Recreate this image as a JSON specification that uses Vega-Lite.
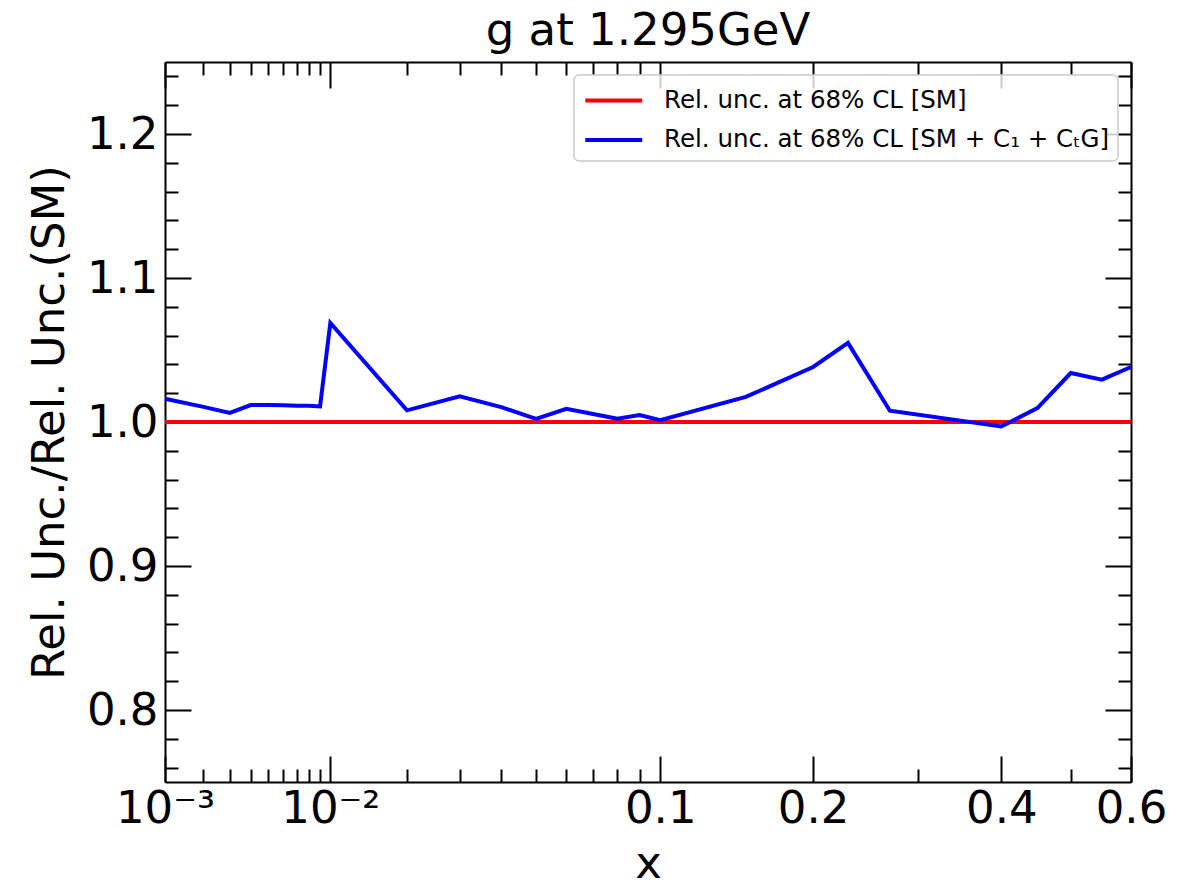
{
  "$schema": "https://vega.github.io/schema/vega-lite/v6.json",
  "autosize": "none",
  "width": 966,
  "height": 720,
  "padding": {"left": 165, "top": 62, "right": 64, "bottom": 103},
  "background": "white",
  "title": {"text": "g at 1.295GeV", "font": "DejaVu Sans", "fontSize": 45, "fontWeight": "normal", "color": "black", "anchor": "middle", "baseline": "alphabetic", "frame": "group", "offset": 17, "dy": 46},
  "config": {
    "view": {"stroke": null},
    "font": "DejaVu Sans",
    "legend": {"strokeWidth": 1.5},
    "axis": {"grid": false, "labelFont": "DejaVu Sans", "titleFont": "DejaVu Sans", "labelColor": "black", "titleColor": "black", "tickColor": "black", "domainColor": "black", "labelFontSize": 45, "titleFontSize": 45, "titleFontWeight": "normal", "tickWidth": 2, "domainWidth": 2, "labelFlush": false, "labelOverlap": false, "labelBound": false}
  },
  "data": {"values": [
    {"x": 0.001, "v": 1.0, "s": "Rel. unc. at 68% CL [SM]"},
    {"x": 0.6, "v": 1.0, "s": "Rel. unc. at 68% CL [SM]"},
    {"x": 0.001, "v": 1.0162, "s": "Rel. unc. at 68% CL [SM + C₁ + CₜG]"},
    {"x": 0.002, "v": 1.0105, "s": "Rel. unc. at 68% CL [SM + C₁ + CₜG]"},
    {"x": 0.003, "v": 1.0063, "s": "Rel. unc. at 68% CL [SM + C₁ + CₜG]"},
    {"x": 0.004, "v": 1.0118, "s": "Rel. unc. at 68% CL [SM + C₁ + CₜG]"},
    {"x": 0.005, "v": 1.0118, "s": "Rel. unc. at 68% CL [SM + C₁ + CₜG]"},
    {"x": 0.006, "v": 1.0117, "s": "Rel. unc. at 68% CL [SM + C₁ + CₜG]"},
    {"x": 0.007, "v": 1.0113, "s": "Rel. unc. at 68% CL [SM + C₁ + CₜG]"},
    {"x": 0.008, "v": 1.0112, "s": "Rel. unc. at 68% CL [SM + C₁ + CₜG]"},
    {"x": 0.009, "v": 1.0108, "s": "Rel. unc. at 68% CL [SM + C₁ + CₜG]"},
    {"x": 0.01, "v": 1.0688, "s": "Rel. unc. at 68% CL [SM + C₁ + CₜG]"},
    {"x": 0.02, "v": 1.0081, "s": "Rel. unc. at 68% CL [SM + C₁ + CₜG]"},
    {"x": 0.03, "v": 1.0178, "s": "Rel. unc. at 68% CL [SM + C₁ + CₜG]"},
    {"x": 0.04, "v": 1.0103, "s": "Rel. unc. at 68% CL [SM + C₁ + CₜG]"},
    {"x": 0.05, "v": 1.0021, "s": "Rel. unc. at 68% CL [SM + C₁ + CₜG]"},
    {"x": 0.06, "v": 1.0092, "s": "Rel. unc. at 68% CL [SM + C₁ + CₜG]"},
    {"x": 0.07, "v": 1.0056, "s": "Rel. unc. at 68% CL [SM + C₁ + CₜG]"},
    {"x": 0.08, "v": 1.0023, "s": "Rel. unc. at 68% CL [SM + C₁ + CₜG]"},
    {"x": 0.09, "v": 1.0049, "s": "Rel. unc. at 68% CL [SM + C₁ + CₜG]"},
    {"x": 0.1, "v": 1.0013, "s": "Rel. unc. at 68% CL [SM + C₁ + CₜG]"},
    {"x": 0.15, "v": 1.0174, "s": "Rel. unc. at 68% CL [SM + C₁ + CₜG]"},
    {"x": 0.2, "v": 1.0382, "s": "Rel. unc. at 68% CL [SM + C₁ + CₜG]"},
    {"x": 0.23, "v": 1.0549, "s": "Rel. unc. at 68% CL [SM + C₁ + CₜG]"},
    {"x": 0.27, "v": 1.0078, "s": "Rel. unc. at 68% CL [SM + C₁ + CₜG]"},
    {"x": 0.4, "v": 0.9969, "s": "Rel. unc. at 68% CL [SM + C₁ + CₜG]"},
    {"x": 0.45, "v": 1.0097, "s": "Rel. unc. at 68% CL [SM + C₁ + CₜG]"},
    {"x": 0.5, "v": 1.034, "s": "Rel. unc. at 68% CL [SM + C₁ + CₜG]"},
    {"x": 0.55, "v": 1.0294, "s": "Rel. unc. at 68% CL [SM + C₁ + CₜG]"},
    {"x": 0.6, "v": 1.0382, "s": "Rel. unc. at 68% CL [SM + C₁ + CₜG]"}
  ]},
  "resolve": {"axis": {"x": "independent", "y": "independent"}},
  "layer": [
    {
      "mark": {"type": "line", "opacity": 0},
      "encoding": {
        "x": {"field": "x", "type": "quantitative", "scale": {"type": "pow", "exponent": 0.3, "domain": [0.001, 0.6], "nice": false, "zero": false},
          "axis": {"orient": "bottom", "values": [0.002,0.003,0.004,0.005,0.006,0.007,0.008,0.009,0.02,0.03,0.04,0.05,0.06,0.07,0.08,0.09,0.3,0.5], "tickSize": -13, "labels": false, "domain": false, "title": null}},
        "y": {"field": "v", "type": "quantitative", "scale": {"domain": [0.75, 1.25], "nice": false, "zero": false},
          "axis": {"orient": "left", "values": [0.76,0.78,0.82,0.84,0.86,0.88,0.92,0.94,0.96,0.98,1.02,1.04,1.06,1.08,1.12,1.14,1.16,1.18,1.22,1.24], "tickSize": -13, "labels": false, "domain": false, "title": null}},
        "detail": {"field": "s"}
      }
    },
    {
      "mark": {"type": "line", "opacity": 0},
      "encoding": {
        "x": {"field": "x", "type": "quantitative",
          "axis": {"orient": "top", "values": [0.002,0.003,0.004,0.005,0.006,0.007,0.008,0.009,0.02,0.03,0.04,0.05,0.06,0.07,0.08,0.09,0.3,0.5], "tickSize": -13, "labels": false, "domain": false, "title": null}},
        "y": {"field": "v", "type": "quantitative",
          "axis": {"orient": "right", "values": [0.76,0.78,0.82,0.84,0.86,0.88,0.92,0.94,0.96,0.98,1.02,1.04,1.06,1.08,1.12,1.14,1.16,1.18,1.22,1.24], "tickSize": -13, "labels": false, "domain": false, "title": null}},
        "detail": {"field": "s"}
      }
    },
    {
      "mark": {"type": "line", "opacity": 0},
      "encoding": {
        "x": {"field": "x", "type": "quantitative",
          "axis": {"orient": "top", "values": [0.001,0.01,0.1,0.2,0.4,0.6], "tickSize": -26, "labels": false, "domain": true, "title": null}},
        "y": {"field": "v", "type": "quantitative",
          "axis": {"orient": "right", "values": [0.8,0.9,1.0,1.1,1.2], "tickSize": -26, "labels": false, "domain": true, "title": null}},
        "detail": {"field": "s"}
      }
    },
    {
      "mark": {"type": "line", "strokeWidth": 4},
      "encoding": {
        "x": {"field": "x", "type": "quantitative",
          "axis": {"orient": "bottom", "values": [0.001,0.01,0.1,0.2,0.4,0.6], "labelExpr": "datum.value < 0.005 ? '10⁻³' : datum.value < 0.05 ? '10⁻²' : format(datum.value, '.1f')", "tickSize": -26, "labelPadding": 30, "domain": true, "title": "x", "titlePadding": 10}},
        "y": {"field": "v", "type": "quantitative",
          "axis": {"orient": "left", "values": [0.8,0.9,1.0,1.1,1.2], "format": ".1f", "tickSize": -26, "labelPadding": 33, "domain": true, "title": "Rel. Unc./Rel. Unc.(SM)", "titlePadding": 14}},
        "color": {"field": "s", "type": "nominal", "sort": null,
          "scale": {"domain": ["Rel. unc. at 68% CL [SM]", "Rel. unc. at 68% CL [SM + C₁ + CₜG]"], "range": ["#ff0000", "#0000ff"]},
          "legend": {"title": null, "orient": "top-right", "offset": 13, "symbolType": "M-1,0H3", "symbolSize": 812, "symbolStrokeWidth": 4, "labelFont": "DejaVu Sans", "labelFontSize": 24.5, "labelColor": "black", "labelOffset": 48, "labelLimit": 700, "padding": 9, "rowPadding": 11.5, "strokeColor": "#cccccc", "cornerRadius": 5, "fillColor": "rgba(255,255,255,0.8)"}}
      }
    }
  ]
}
